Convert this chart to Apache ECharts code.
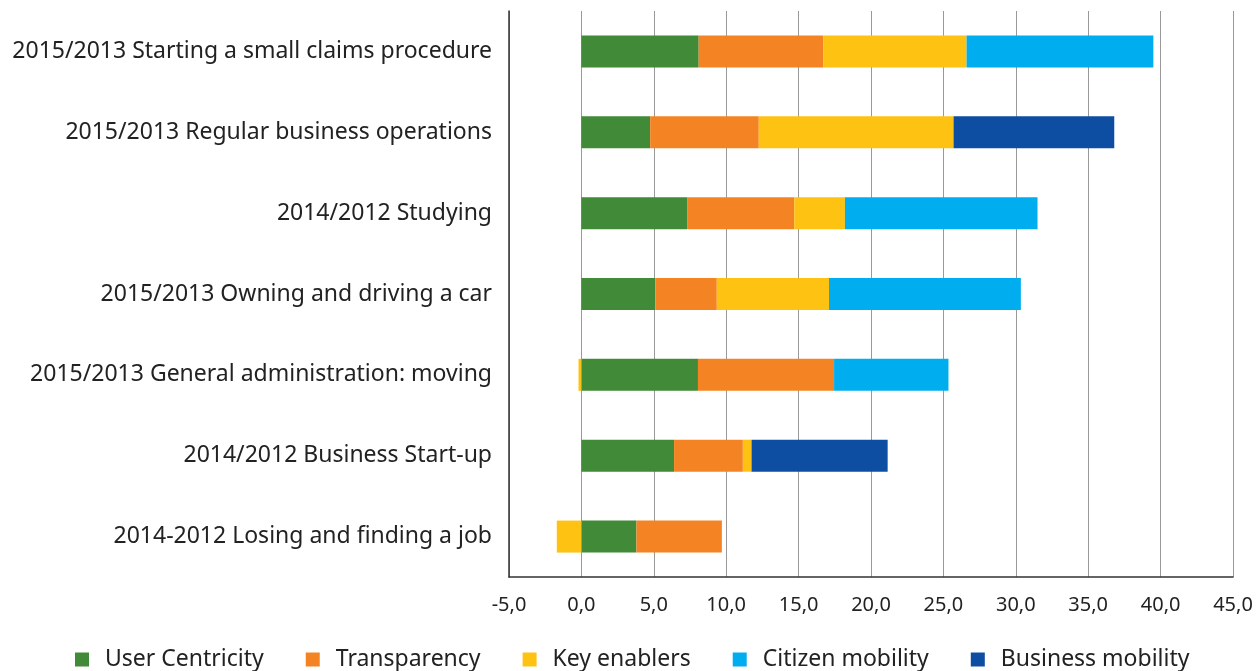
<!DOCTYPE html>
<html>
<head>
<meta charset="utf-8">
<script src="https://cdn.jsdelivr.net/npm/echarts@6/dist/echarts.min.js"></script>
<style>
  html, body { margin: 0; padding: 0; background: #fff; }
  #chart { width: 1260px; height: 671px; }
</style>
</head>
<body>
<div id="chart"></div>
<script>
const categories = [
  "2015/2013 Starting a small claims procedure",
  "2015/2013 Regular business operations",
  "2014/2012 Studying",
  "2015/2013 Owning and driving a car",
  "2015/2013 General administration: moving",
  "2014/2012 Business Start-up",
  "2014-2012 Losing and finding a job"
];
const seriesNames = ["User Centricity", "Transparency", "Key enablers", "Citizen mobility", "Business mobility"];
const userCentricity = [8.1, 4.75, 7.3, 5.1, 8.05, 6.4, 3.8];
const transparency = [8.6, 7.5, 7.4, 4.25, 9.4, 4.75, 5.9];
const keyEnablers = [9.9, 13.45, 3.5, 7.75, -0.2, 0.6, -1.7];
const citizenMobility = [12.9, 0, 13.3, 13.25, 7.9, 0, 0];
const businessMobility = [0, 11.1, 0, 0, 0, 9.4, 0];
const colors = ["#418a37", "#f48423", "#fec213", "#00aeef", "#0d4ea2"];

const allValues = [userCentricity, transparency, keyEnablers, citizenMobility, businessMobility];

const chart = echarts.init(document.getElementById("chart"));
chart.setOption({
  animation: false,
  textStyle: { fontFamily: "Noto Sans" },
  grid: { left: 509, right: 27, top: 11, bottom: 94 },
  legend: {
    top: 648,
    left: 75,
    padding: 0,
    itemWidth: 14,
    itemHeight: 14,
    itemGap: 42,
    icon: "rect",
    textStyle: { fontSize: 23, color: "#222", padding: [0, 0, 0, 11] },
    data: seriesNames
  },
  xAxis: {
    type: "value",
    min: -5,
    max: 45,
    interval: 5,
    axisLine: { show: true, lineStyle: { color: "#333", width: 1.5 } },
    axisTick: { show: false },
    splitLine: { show: true, lineStyle: { color: "#999", width: 1 } },
    axisLabel: {
      fontSize: 20,
      color: "#222",
      margin: 18,
      formatter: v => v.toFixed(1).replace(".", ",")
    }
  },
  yAxis: {
    type: "category",
    inverse: true,
    data: categories,
    axisLine: { show: true, onZero: false, lineStyle: { color: "#333", width: 1.5 } },
    axisTick: { show: false },
    axisLabel: { fontSize: 23, color: "#222", margin: 17 }
  },
  series: seriesNames.map((name, i) => ({
    name: name,
    type: "bar",
    stack: "total",
    barWidth: 32,
    itemStyle: { color: colors[i] },
    data: allValues[i].map(v => (v === 0 ? null : v))
  }))
});
</script>
</body>
</html>
